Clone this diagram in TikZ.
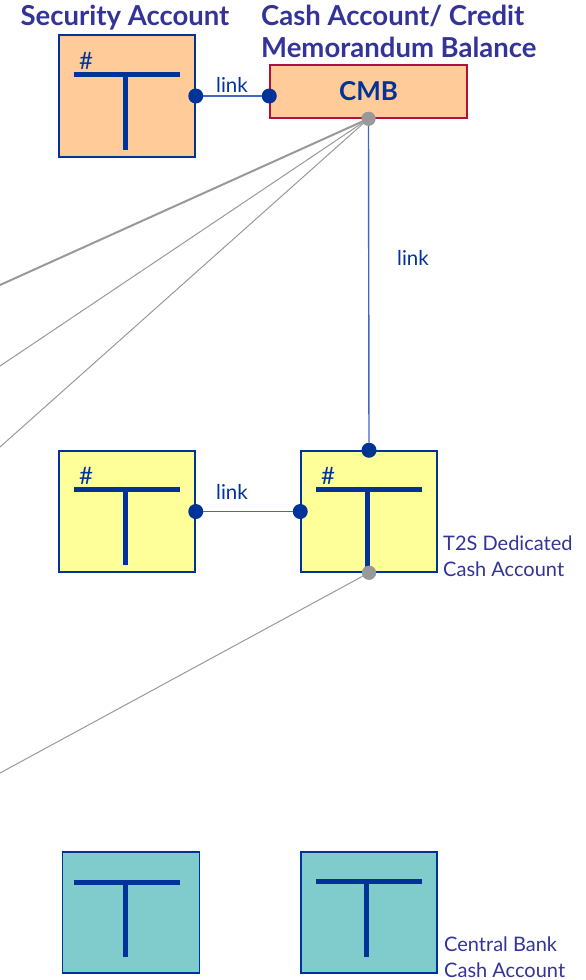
\documentclass[tikz,border=0pt]{standalone}
\usepackage{fontspec}
\setmainfont{Lato}
\usetikzlibrary{calc}
\definecolor{navy}{HTML}{003399}
\definecolor{titleblue}{HTML}{333399}
\definecolor{linkblue}{HTML}{4466BB}
\definecolor{peach}{HTML}{FFCC99}
\definecolor{paleyellow}{HTML}{FFFF99}
\definecolor{tealfill}{HTML}{80CCCC}
\definecolor{cmbred}{HTML}{B0103A}
\definecolor{fangray}{HTML}{999999}
\begin{document}
\begin{tikzpicture}[x=1pt,y=-1pt,
  acct/.style={draw=navy, line width=1.5pt, minimum width=136pt,
    minimum height=121pt, inner sep=0pt, fill=#1},
  tbar/.style={navy, line width=5pt},
  jointdot/.style={circle, fill=navy, inner sep=0pt, minimum size=15pt},
  greydot/.style={circle, fill=fangray, inner sep=0pt, minimum size=14pt},
  linkline/.style={linkblue, line width=1.4pt},
  fanline/.style={fangray, line width=1pt},
  lbl/.style={text=navy, font=\fontsize{20.5}{24}\selectfont, inner sep=0pt, anchor=base},
  caption/.style={text=titleblue, font=\fontsize{20}{24}\selectfont, inner sep=0pt, anchor=base west},
  heading/.style={text=titleblue, font=\bfseries\fontsize{27.5}{32}\selectfont, inner sep=0pt},
  hashmark/.style={text=navy, font=\fontsize{24}{28}\selectfont, inner sep=0pt}
]
\useasboundingbox (0,0) rectangle (586,980);

% headings
\node[heading, anchor=base] (secTitle) at (125,25) {Security Account};
\node[heading, anchor=base west] (cashTitleA) at (261,25) {Cash Account/ Credit};
\node[heading, anchor=base west] (cashTitleB) at (261,57) {Memorandum Balance};

% account boxes
\node[acct=peach, minimum height=122pt] (sec) at (127,96) {};
\node[draw=cmbred, fill=peach, line width=1.5pt, minimum width=197pt,
  minimum height=53pt, inner sep=0pt, text=navy,
  font=\bfseries\fontsize{26}{28}\selectfont] (cmb) at (368.5,91.5) {CMB};
\node[acct=paleyellow] (ya) at (127,511.5) {};
\node[acct=paleyellow] (yb) at (369,511.5) {};
\node[acct=tealfill, minimum width=137pt] (ta) at (131,912.5) {};
\node[acct=tealfill] (tb) at (369,912.5) {};

% T symbols inside the boxes
\draw[tbar] (74,74) -- (180,74) (125,74) -- (125,150);
\draw[tbar] (74,489) -- (180,489) (125,489) -- (125,565);
\draw[tbar] (316,489) -- (422,489) (367,489) -- (367,572);
\draw[tbar] (74,882) -- (180,882) (125,882) -- (125,957);
\draw[tbar] (316,881) -- (422,881) (366,881) -- (366,957);

\node[hashmark, anchor=base] (secHash) at (86,69) {\#};
\node[hashmark, anchor=base] (yaHash) at (86,484) {\#};
\node[hashmark, anchor=base] (ybHash) at (328,484) {\#};

% connection points
\node[jointdot] (secR) at (sec.east) {};
\node[jointdot] (cmbL) at (cmb.west |- sec.east) {};
\node[greydot] (cmbB) at (cmb.south) {};
\node[jointdot] (ybT) at (yb.north) {};
\node[jointdot] (yaR) at (ya.east) {};
\node[jointdot] (ybL) at (yb.west) {};
\node[greydot] (ybB) at (yb.south) {};

% links
\draw[linkline] (secR) -- (cmbL);
\draw[linkline] (cmbB) -- (ybT);
\draw[linkline] (yaR) -- (ybL);
\node[lbl] (linkTop) at (232,92) {link};
\node[lbl] (linkMid) at (413,265) {link};
\node[lbl] (linkLow) at (232,499) {link};

% lines leaving to the left
\coordinate (fanA) at (0,285);
\coordinate (fanB) at (0,366);
\coordinate (fanC) at (0,447);
\coordinate (fanD) at (0,773);
\draw[fanline, line width=2pt] (cmbB) -- (fanA);
\draw[fanline] (cmbB) -- (fanB);
\draw[fanline] (cmbB) -- (fanC);
\draw[fanline] (ybB) -- (fanD);
\node[greydot] at (cmbB) {};
\node[greydot] at (ybB) {};

% captions
\node[caption] (t2sA) at (443,550) {T2S Dedicated};
\node[caption] (t2sB) at (443,576) {Cash Account};
\node[caption] (cbA) at (444,951.5) {Central Bank};
\node[caption] (cbB) at (444,977) {Cash Account};
\end{tikzpicture}
\end{document}
